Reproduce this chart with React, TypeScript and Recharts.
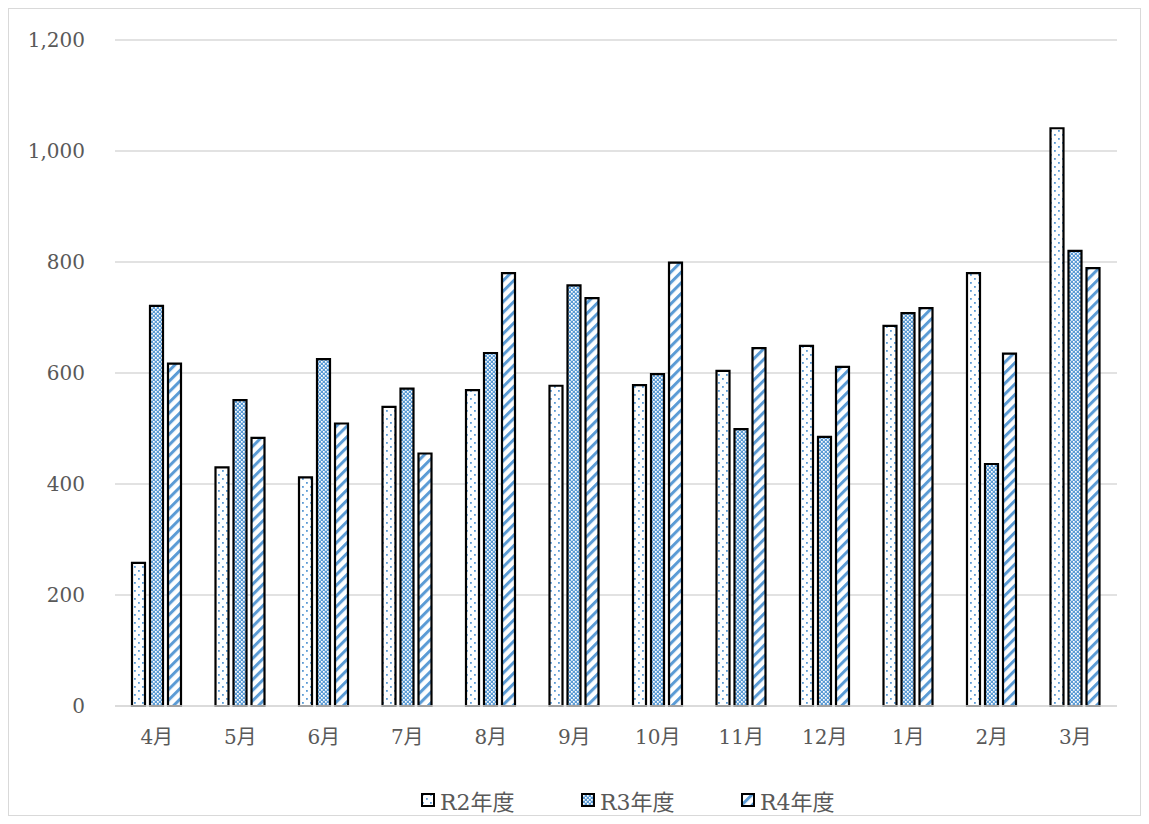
import React from "react";
import {
  BarChart,
  Bar,
  XAxis,
  YAxis,
  CartesianGrid,
} from "recharts";

const months = ["4月", "5月", "6月", "7月", "8月", "9月", "10月", "11月", "12月", "1月", "2月", "3月"];
const r2 = [258, 430, 412, 539, 569, 577, 578, 604, 649, 685, 780, 1041];
const r3 = [721, 551, 625, 572, 636, 758, 598, 499, 485, 708, 436, 820];
const r4 = [617, 483, 509, 455, 780, 735, 799, 645, 611, 717, 635, 789];
const yTicks = [0, 200, 400, 600, 800, 1000, 1200];
const seriesNames = ["R2年度", "R3年度", "R4年度"];

const data = months.map((m, i) => ({ month: m, r2: r2[i], r3: r3[i], r4: r4[i] }));

const BLUE = "#5b9bd5";
const TEXT = "#595959";
const FONT = "'DejaVu Serif', 'Noto Sans CJK JP', serif";

function Patterns({ prefix }: { prefix: string }) {
  return (
    <defs>
      <pattern id={`${prefix}dots`} width="8" height="8" patternUnits="userSpaceOnUse">
        <rect width="8" height="8" fill="#fff" />
        <rect x="1" y="1" width="1.8" height="1.8" fill={BLUE} />
        <rect x="5" y="5" width="1.8" height="1.8" fill={BLUE} />
      </pattern>
      <pattern id={`${prefix}check`} width="4" height="4" patternUnits="userSpaceOnUse">
        <rect width="4" height="4" fill={BLUE} />
        <rect x="0" y="0" width="1.7" height="1.7" fill="#fff" />
        <rect x="2" y="2" width="1.7" height="1.7" fill="#fff" />
      </pattern>
      <pattern
        id={`${prefix}stripe`}
        width="7.5"
        height="7.5"
        patternUnits="userSpaceOnUse"
        patternTransform="rotate(45)"
      >
        <rect width="7.5" height="7.5" fill="#fff" />
        <rect x="0" y="0" width="3" height="7.5" fill={BLUE} />
      </pattern>
    </defs>
  );
}

const fills = ["dots", "check", "stripe"];

function LegendBox() {
  return (
    <div
      style={{
        position: "absolute",
        left: 412,
        top: 775,
        display: "flex",
        fontFamily: FONT,
        fontSize: 22,
        color: TEXT,
      }}
    >
      {seriesNames.map((name, i) => (
        <div key={name} style={{ width: 160, display: "flex", alignItems: "center" }}>
          <svg width="14" height="14" style={{ marginRight: 5 }}>
            <Patterns prefix={`lg${i}`} />
            <rect x="1" y="1" width="12" height="12" fill={`url(#lg${i}${fills[i]})`} stroke="#000" strokeWidth="2" />
          </svg>
          <span>{name}</span>
        </div>
      ))}
    </div>
  );
}

export default function App() {
  return (
    <div
      style={{
        position: "relative",
        width: 1131,
        height: 806,
        border: "1px solid #d9d9d9",
        background: "#fff",
      }}
    >
      <BarChart
        width={1131}
        height={806}
        data={data}
        margin={{ top: 31, right: 23, bottom: 0, left: 0 }}
        barSize={13}
        barGap={5}
      >
        <Patterns prefix="ch" />
        <CartesianGrid vertical={false} stroke="#d9d9d9" strokeWidth={1.3} />
        <XAxis
          dataKey="month"
          height={109}
          tickSize={0}
          tickMargin={24}
          tickLine={false}
          axisLine={{ stroke: "#d9d9d9", strokeWidth: 1.3 }}
          tick={{ fill: TEXT, fontSize: 20, fontFamily: FONT }}
          interval={0}
        />
        <YAxis
          width={106}
          domain={[0, 1200]}
          ticks={yTicks}
          tickSize={0}
          tickMargin={30}
          tickLine={false}
          axisLine={false}
          tickFormatter={(v: number) => v.toLocaleString("en-US")}
          tick={{ fill: TEXT, fontSize: 20, fontFamily: FONT }}
        />
        <Bar dataKey="r2" name={seriesNames[0]} fill="url(#chdots)" stroke="#000" strokeWidth={2.2} isAnimationActive={false} />
        <Bar dataKey="r3" name={seriesNames[1]} fill="url(#chcheck)" stroke="#000" strokeWidth={2.2} isAnimationActive={false} />
        <Bar dataKey="r4" name={seriesNames[2]} fill="url(#chstripe)" stroke="#000" strokeWidth={2.2} isAnimationActive={false} />
      </BarChart>
      <LegendBox />
    </div>
  );
}
